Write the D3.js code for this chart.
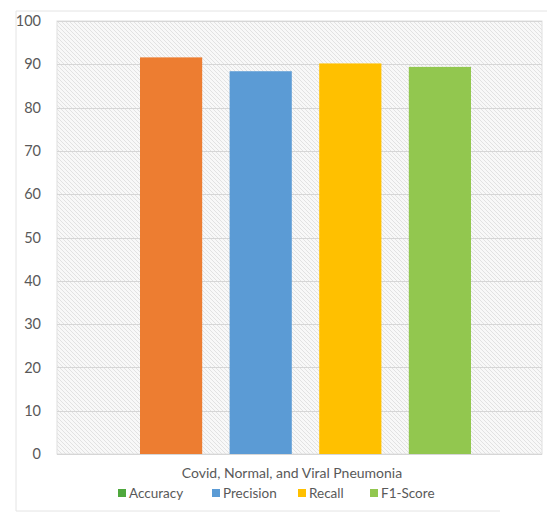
<!DOCTYPE html>
<html>
<head>
<meta charset="utf-8">
<script src="https://cdn.jsdelivr.net/npm/d3@7"></script>
<style>
  html, body { margin: 0; padding: 0; background: #ffffff; }
  svg { display: block; }
  text { font-family: Lato, "Open Sans", sans-serif; }
</style>
</head>
<body>
<div id="chart"></div>
<script>
// Classification metrics for the three-class task
const categories = ["Accuracy", "Precision", "Recall", "F1-Score"];
const values = [91.6, 88.4, 90.2, 89.4];
const barColors = ["#ED7D31", "#5B9BD5", "#FFC000", "#92C74F"];
const legendColors = ["#4FA83D", "#5B9BD5", "#FFC000", "#92C74F"];
const yTicks = [0, 10, 20, 30, 40, 50, 60, 70, 80, 90, 100];
const groupLabel = "Covid, Normal, and Viral Pneumonia";

const W = 547, H = 514;
const plot = { left: 57, right: 542, top: 21, bottom: 454 };

const svg = d3.select("#chart").append("svg")
  .attr("width", W).attr("height", H);

// diagonal hatch used as the plot background
const defs = svg.append("defs");
const pat = defs.append("pattern")
  .attr("id", "hatch")
  .attr("patternUnits", "userSpaceOnUse")
  .attr("width", 4).attr("height", 4);
pat.append("rect").attr("width", 4).attr("height", 4).attr("fill", "#f8f8f8");
pat.append("path")
  .attr("d", "M-1,-1 L5,5 M-1,3 L1,5 M3,-1 L5,1")
  .attr("stroke", "#e2e2e2").attr("stroke-width", 1);

// faint chart-area frame
const frame = svg.append("g").attr("stroke", "#e4e4e4").attr("fill", "none");
frame.append("line").attr("x1", 16).attr("x2", 16).attr("y1", 11).attr("y2", 511);
frame.append("line").attr("x1", 16).attr("x2", W).attr("y1", 11).attr("y2", 11);
frame.append("line").attr("x1", 16).attr("x2", 500).attr("y1", 511).attr("y2", 511);

const y = d3.scaleLinear().domain([0, 100]).range([plot.bottom, plot.top]);
const x = d3.scaleBand().domain(categories)
  .range([140, 471])
  .paddingInner(0.306).paddingOuter(0);

// plot area
svg.append("rect")
  .attr("x", plot.left).attr("y", plot.top)
  .attr("width", plot.right - plot.left).attr("height", plot.bottom - plot.top)
  .attr("fill", "url(#hatch)")
  .attr("stroke", "#e0e0e0");

// horizontal gridlines
svg.append("g").selectAll("line").data(yTicks).join("line")
  .attr("x1", plot.left).attr("x2", plot.right)
  .attr("y1", d => Math.round(y(d)) + 0.5).attr("y2", d => Math.round(y(d)) + 0.5)
  .attr("stroke", "#d6d6d6").attr("stroke-width", 1);

// y axis labels
const yAxis = d3.axisLeft(y).tickValues(yTicks).tickSize(0).tickPadding(0);
const gy = svg.append("g").attr("transform", `translate(${41},0)`).call(yAxis);
gy.select(".domain").remove();
gy.selectAll("text")
  .attr("fill", "#595959")
  .style("font-size", "14.5px");

// bars
svg.append("g").selectAll("rect").data(values).join("rect")
  .attr("x", (d, i) => x(categories[i]))
  .attr("width", x.bandwidth())
  .attr("y", d => y(d))
  .attr("height", d => y(0) - y(d))
  .attr("fill", (d, i) => barColors[i]);

// category title under the plot
svg.append("text")
  .attr("x", 292).attr("y", 478)
  .attr("text-anchor", "middle")
  .attr("fill", "#595959")
  .style("font-size", "14px")
  .text(groupLabel);

// legend
const legendX = [118, 212, 298, 370];
const lg = svg.append("g").selectAll("g").data(categories).join("g")
  .attr("transform", (d, i) => `translate(${legendX[i]},493)`);
lg.append("rect")
  .attr("x", 0).attr("y", -4).attr("width", 8).attr("height", 8)
  .attr("fill", (d, i) => legendColors[i]);
lg.append("text")
  .attr("x", 11).attr("y", 5)
  .attr("fill", "#595959")
  .style("font-size", "13.5px")
  .text(d => d);
</script>
</body>
</html>
